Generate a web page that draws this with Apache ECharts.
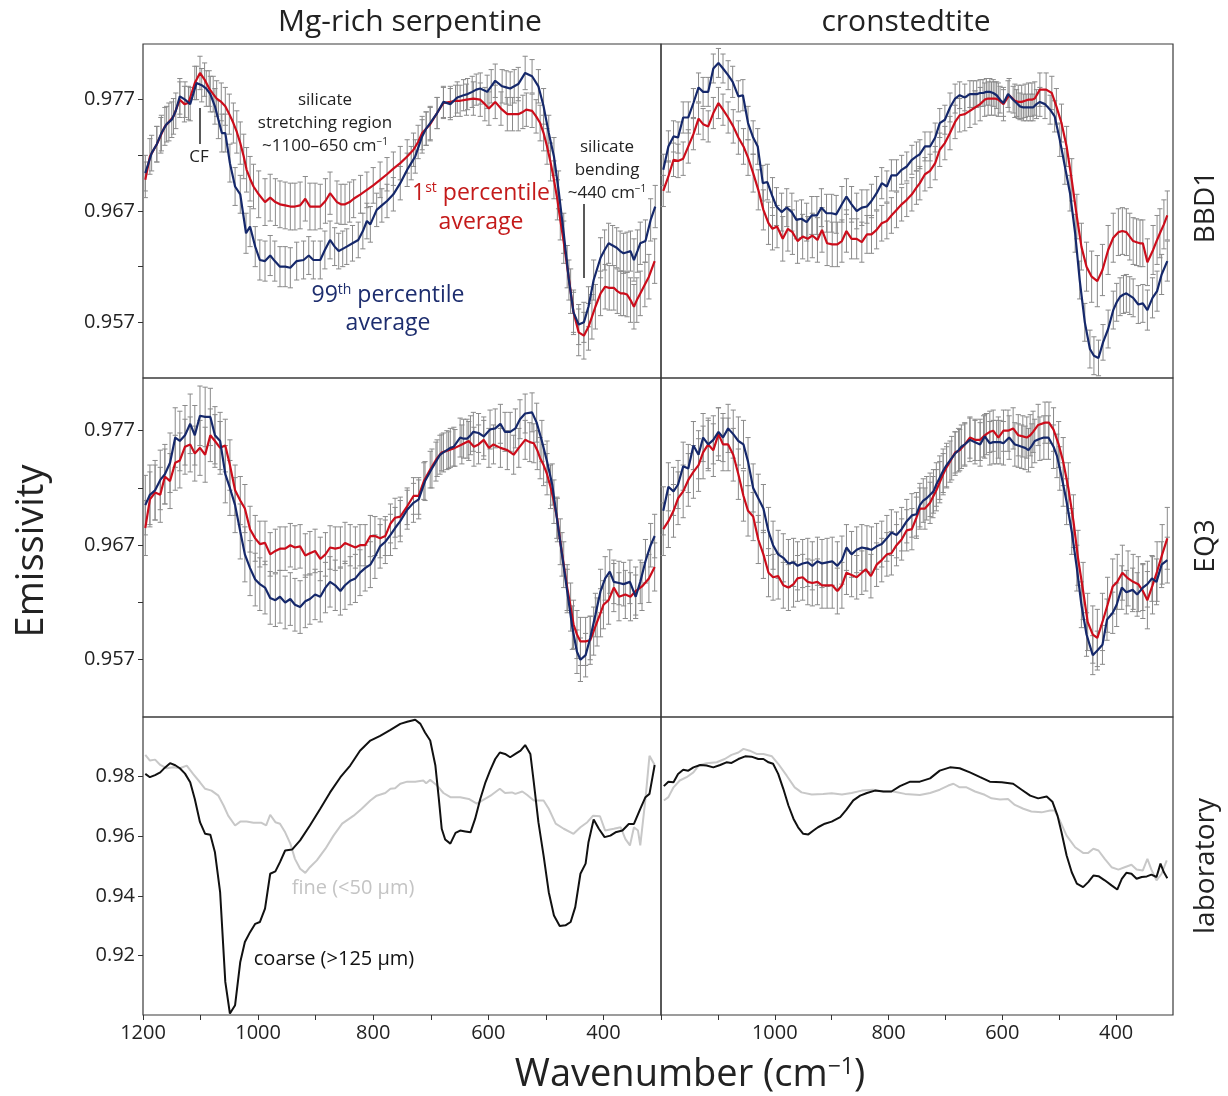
<!DOCTYPE html>
<html><head><meta charset="utf-8">
<script src="https://cdn.jsdelivr.net/npm/echarts@6/dist/echarts.min.js"></script>
<style>html,body{margin:0;padding:0;background:#fff}#c{width:1228px;height:1096px}</style>
</head><body><div id="c"></div>
<script>
// ---------- DATA: [wavenumber (cm-1), emissivity, error half-width] ----------
const bbd1SerpP1 = [[1196,.9698,.0016],[1188,.9719,.0016],[1176,.9730,.0016],[1169,.9738,.0016],[1162,.9746,.0017],[1155,.9750,.0017],[1147,.9755,.0016],[1136,.9770,.0016],[1128,.9766,.0016],[1121,.9767,.0015],[1110,.9785,.0015],[1101,.9794,.0015],[1093,.9788,.0015],[1085,.9780,.0016],[1078,.9775,.0016],[1072,.9771,.0016],[1064,.9768,.0017],[1057,.9764,.0017],[1050,.9757,.0018],[1043,.9749,.0018],[1037,.9741,.0019],[1031,.9731,.0019],[1025,.9719,.0020],[1020,.9707,.0020],[1014,.9699,.0020],[1008,.9692,.0020],[999,.9685,.0021],[988,.9678,.0021],[979,.9682,.0021],[970,.9678,.0021],[962,.9676,.0021],[953,.9675,.0021],[944,.9674,.0021],[936,.9674,.0021],[927,.9675,.0021],[918,.9681,.0020],[910,.9674,.0021],[901,.9674,.0021],[892,.9674,.0020],[883,.9679,.0020],[875,.9686,.0019],[863,.9678,.0019],[856,.9676,.0018],[849,.9676,.0018],[841,.9678,.0018],[834,.9681,.0017],[822,.9685,.0017],[811,.9689,.0016],[800,.9693,.0016],[788,.9698,.0016],[776,.9703,.0015],[765,.9708,.0015],[753,.9713,.0015],[741,.9719,.0015],[730,.9725,.0015],[722,.9732,.0015],[715,.9740,.0015],[708,.9744,.0015],[701,.9748,.0015],[689,.9758,.0014],[678,.9767,.0014],[666,.9768,.0014],[657,.9769,.0014],[649,.9769,.0014],[638,.9770,.0014],[626,.9771,.0015],[614,.9770,.0015],[606,.9766,.0015],[599,.9762,.0015],[588,.9768,.0015],[578,.9762,.0015],[567,.9757,.0015],[558,.9757,.0015],[548,.9757,.0015],[540,.9759,.0015],[534,.9761,.0015],[524,.9760,.0015],[517,.9755,.0015],[510,.9749,.0016],[504,.9740,.0016],[498,.9728,.0016],[492,.9714,.0017],[486,.9698,.0017],[480,.9680,.0018],[475,.9662,.0018],[469,.9642,.0019],[463,.9620,.0019],[457,.9598,.0020],[452,.9579,.0020],[443,.9561,.0021],[434,.9558,.0021],[426,.9566,.0021],[420,.9575,.0020],[414,.9584,.0020],[405,.9596,.0020],[397,.9602,.0020],[390,.9601,.0020],[382,.9601,.0020],[376,.9598,.0020],[370,.9596,.0020],[365,.9596,.0020],[359,.9595,.0020],[353,.9590,.0020],[347,.9584,.0020],[342,.9590,.0020],[336,.9596,.0020],[328,.9604,.0020],[321,.9611,.0020],[311,.9625,.0020]];
const bbd1SerpP99 = [[1196,.9704,.0016],[1185,.9722,.0016],[1176,.9730,.0016],[1168,.9740,.0016],[1159,.9748,.0016],[1150,.9752,.0016],[1143,.9760,.0016],[1136,.9773,.0016],[1127,.9770,.0016],[1118,.9766,.0015],[1107,.9785,.0015],[1098,.9783,.0015],[1090,.9780,.0016],[1083,.9775,.0016],[1075,.9764,.0016],[1069,.9752,.0017],[1063,.9740,.0017],[1057,.9740,.0017],[1049,.9713,.0017],[1040,.9692,.0017],[1031,.9685,.0017],[1021,.9650,.0018],[1014,.9656,.0018],[1005,.9638,.0018],[997,.9626,.0018],[988,.9625,.0018],[979,.9630,.0018],[971,.9625,.0018],[962,.9620,.0018],[953,.9620,.0018],[944,.9619,.0018],[933,.9625,.0017],[921,.9626,.0017],[912,.9630,.0017],[904,.9626,.0017],[892,.9626,.0017],[884,.9635,.0017],[875,.9644,.0017],[867,.9638,.0017],[860,.9634,.0016],[853,.9636,.0016],[846,.9638,.0016],[836,.9641,.0016],[826,.9644,.0016],[818,.9652,.0016],[811,.9661,.0016],[805,.9658,.0016],[794,.9671,.0015],[785,.9675,.0015],[776,.9679,.0015],[765,.9685,.0015],[753,.9695,.0015],[741,.9707,.0015],[734,.9713,.0015],[727,.9719,.0015],[715,.9737,.0015],[708,.9744,.0015],[701,.9749,.0015],[689,.9758,.0014],[678,.9768,.0014],[666,.9766,.0014],[654,.9772,.0014],[643,.9774,.0014],[636,.9775,.0014],[628,.9777,.0014],[621,.9779,.0014],[614,.9780,.0014],[602,.9777,.0015],[595,.9782,.0015],[588,.9787,.0015],[576,.9782,.0015],[569,.9781,.0015],[562,.9780,.0015],[555,.9782,.0015],[548,.9784,.0015],[536,.9794,.0015],[524,.9791,.0015],[513,.9782,.0015],[504,.9764,.0016],[495,.9740,.0016],[486,.9719,.0017],[478,.9689,.0017],[469,.9650,.0018],[460,.9608,.0018],[452,.9579,.0018],[443,.9568,.0018],[434,.9570,.0018],[426,.9584,.0018],[417,.9608,.0018],[405,.9628,.0018],[398,.9635,.0018],[391,.9641,.0018],[384,.9639,.0018],[377,.9637,.0018],[371,.9634,.0018],[365,.9632,.0018],[359,.9633,.0018],[353,.9634,.0018],[347,.9626,.0019],[341,.9634,.0019],[336,.9641,.0019],[327,.9643,.0019],[318,.9662,.0019],[310,.9674,.0019]];
const bbd1CronP1 = [[1196,.9688,.0014],[1187,.9701,.0014],[1178,.9716,.0015],[1170,.9715,.0015],[1161,.9717,.0015],[1152,.9728,.0015],[1143,.9739,.0014],[1134,.9753,.0014],[1126,.9748,.0014],[1117,.9746,.0014],[1108,.9758,.0014],[1099,.9767,.0014],[1091,.9761,.0014],[1082,.9754,.0014],[1073,.9746,.0015],[1064,.9736,.0015],[1055,.9728,.0016],[1047,.9718,.0016],[1038,.9704,.0017],[1029,.9689,.0018],[1020,.9671,.0018],[1011,.9659,.0019],[1004,.9654,.0019],[996,.9656,.0019],[986,.9645,.0020],[977,.9654,.0020],[969,.9651,.0020],[960,.9643,.0020],[951,.9647,.0020],[942,.9645,.0020],[934,.9648,.0020],[925,.9644,.0020],[917,.9653,.0020],[908,.9641,.0020],[899,.9640,.0020],[890,.9640,.0020],[882,.9643,.0019],[874,.9652,.0019],[865,.9645,.0018],[856,.9645,.0018],[847,.9642,.0018],[838,.9649,.0017],[830,.9649,.0017],[821,.9653,.0017],[812,.9659,.0016],[803,.9661,.0016],[795,.9666,.0016],[786,.9671,.0016],[777,.9676,.0015],[768,.9680,.0015],[759,.9685,.0015],[751,.9691,.0015],[745,.9695,.0015],[736,.9703,.0015],[727,.9706,.0015],[718,.9713,.0015],[710,.9725,.0015],[701,.9731,.0015],[692,.9740,.0015],[683,.9750,.0015],[675,.9756,.0015],[666,.9757,.0015],[657,.9760,.0015],[648,.9763,.0015],[639,.9766,.0015],[631,.9770,.0015],[625,.9771,.0015],[619,.9771,.0015],[613,.9771,.0015],[607,.9770,.0015],[598,.9766,.0015],[588,.9774,.0015],[578,.9769,.0015],[572,.9768,.0015],[566,.9768,.0015],[560,.9769,.0015],[554,.9770,.0015],[548,.9770,.0015],[543,.9771,.0015],[534,.9779,.0015],[523,.9779,.0015],[513,.9776,.0015],[505,.9764,.0016],[496,.9749,.0017],[487,.9728,.0018],[478,.9698,.0019],[469,.9665,.0020],[461,.9638,.0021],[452,.9620,.0022],[443,.9611,.0023],[433,.9607,.0023],[424,.9617,.0023],[414,.9635,.0022],[405,.9646,.0022],[396,.9651,.0021],[389,.9652,.0021],[382,.9651,.0021],[376,.9647,.0021],[370,.9643,.0021],[364,.9642,.0021],[358,.9641,.0021],[353,.9641,.0021],[345,.9624,.0021],[335,.9635,.0022],[328,.9644,.0022],[323,.9650,.0022],[316,.9658,.0022],[310,.9666,.0022]];
const bbd1CronP99 = [[1196,.9707,.0014],[1187,.9728,.0014],[1178,.9737,.0014],[1170,.9736,.0014],[1161,.9754,.0014],[1152,.9754,.0014],[1143,.9767,.0013],[1134,.9781,.0013],[1126,.9777,.0013],[1117,.9777,.0013],[1108,.9798,.0013],[1099,.9803,.0013],[1091,.9798,.0013],[1082,.9792,.0013],[1074,.9786,.0014],[1064,.9773,.0014],[1056,.9774,.0014],[1047,.9749,.0015],[1038,.9736,.0015],[1030,.9728,.0016],[1021,.9695,.0016],[1013,.9696,.0016],[1004,.9683,.0017],[997,.9674,.0017],[988,.9669,.0017],[979,.9673,.0017],[970,.9669,.0017],[962,.9662,.0017],[953,.9663,.0017],[944,.9660,.0017],[935,.9666,.0017],[926,.9666,.0017],[918,.9673,.0017],[909,.9668,.0017],[900,.9668,.0017],[892,.9667,.0017],[882,.9676,.0016],[874,.9683,.0016],[865,.9676,.0016],[856,.9670,.0016],[847,.9673,.0016],[838,.9674,.0015],[830,.9679,.0015],[821,.9686,.0015],[812,.9695,.0014],[803,.9692,.0014],[795,.9702,.0014],[786,.9702,.0014],[777,.9707,.0013],[768,.9710,.0013],[759,.9716,.0013],[751,.9719,.0013],[745,.9721,.0013],[736,.9728,.0013],[727,.9728,.0013],[718,.9736,.0013],[710,.9749,.0013],[701,.9752,.0013],[692,.9763,.0013],[683,.9771,.0013],[675,.9774,.0012],[666,.9772,.0012],[657,.9775,.0012],[651,.9775,.0012],[645,.9775,.0012],[639,.9776,.0012],[634,.9776,.0012],[628,.9777,.0012],[622,.9777,.0012],[616,.9776,.0012],[610,.9774,.0012],[604,.9770,.0012],[598,.9767,.0012],[590,.9775,.0012],[581,.9770,.0012],[575,.9767,.0012],[569,.9764,.0012],[563,.9763,.0012],[557,.9763,.0012],[551,.9763,.0012],[546,.9763,.0012],[540,.9766,.0013],[534,.9768,.0013],[525,.9766,.0013],[516,.9761,.0013],[508,.9755,.0014],[499,.9734,.0015],[490,.9710,.0016],[481,.9686,.0016],[472,.9650,.0017],[464,.9608,.0017],[455,.9570,.0017],[446,.9546,.0017],[439,.9540,.0017],[431,.9538,.0016],[423,.9552,.0016],[414,.9564,.0017],[405,.9581,.0017],[399,.9588,.0017],[393,.9593,.0017],[387,.9595,.0017],[382,.9596,.0017],[376,.9594,.0017],[370,.9592,.0017],[361,.9586,.0017],[353,.9587,.0017],[345,.9581,.0018],[336,.9592,.0018],[328,.9598,.0018],[320,.9613,.0018],[310,.9625,.0018]];
const eq3SerpP1 = [[1196,.9685,.0024],[1188,.9710,.0024],[1179,.9716,.0024],[1170,.9714,.0024],[1162,.9730,.0024],[1153,.9726,.0024],[1144,.9742,.0024],[1136,.9744,.0024],[1127,.9756,.0024],[1118,.9758,.0024],[1110,.9750,.0024],[1101,.9755,.0024],[1092,.9749,.0024],[1083,.9766,.0023],[1075,.9761,.0023],[1066,.9755,.0023],[1057,.9757,.0023],[1049,.9740,.0022],[1040,.9718,.0022],[1031,.9709,.0021],[1023,.9702,.0021],[1014,.9684,.0020],[1005,.9676,.0020],[997,.9671,.0020],[988,.9672,.0019],[979,.9662,.0019],[970,.9665,.0019],[962,.9667,.0019],[953,.9667,.0019],[944,.9670,.0019],[936,.9668,.0019],[927,.9669,.0019],[918,.9661,.0019],[910,.9663,.0019],[901,.9665,.0019],[892,.9658,.0019],[883,.9662,.0019],[875,.9668,.0019],[866,.9667,.0019],[857,.9668,.0018],[849,.9672,.0018],[840,.9670,.0018],[831,.9668,.0018],[823,.9670,.0018],[814,.9670,.0018],[805,.9678,.0018],[797,.9678,.0017],[788,.9676,.0017],[779,.9678,.0017],[770,.9689,.0017],[762,.9694,.0017],[753,.9695,.0017],[741,.9704,.0016],[730,.9713,.0016],[721,.9713,.0016],[712,.9726,.0016],[701,.9736,.0016],[689,.9746,.0016],[681,.9751,.0016],[669,.9753,.0016],[658,.9755,.0016],[646,.9758,.0017],[634,.9761,.0017],[625,.9756,.0017],[617,.9758,.0017],[608,.9762,.0017],[599,.9755,.0017],[591,.9758,.0017],[579,.9755,.0017],[567,.9753,.0017],[556,.9749,.0017],[547,.9755,.0017],[536,.9762,.0017],[528,.9760,.0017],[521,.9759,.0017],[515,.9753,.0017],[510,.9746,.0018],[504,.9740,.0018],[498,.9732,.0018],[492,.9721,.0019],[486,.9708,.0019],[480,.9692,.0019],[475,.9673,.0020],[469,.9653,.0020],[463,.9633,.0020],[457,.9616,.0021],[452,.9601,.0021],[446,.9592,.0021],[440,.9586,.0021],[431,.9586,.0021],[423,.9587,.0021],[417,.9595,.0021],[411,.9603,.0021],[405,.9611,.0021],[400,.9618,.0021],[391,.9622,.0021],[382,.9633,.0021],[373,.9625,.0021],[362,.9627,.0021],[353,.9625,.0021],[344,.9630,.0021],[333,.9634,.0021],[321,.9641,.0021],[311,.9651,.0021]];
const eq3SerpP99 = [[1196,.9705,.0026],[1188,.9714,.0026],[1179,.9718,.0026],[1170,.9727,.0026],[1162,.9732,.0026],[1153,.9742,.0026],[1144,.9764,.0026],[1136,.9761,.0026],[1127,.9766,.0026],[1118,.9776,.0026],[1110,.9766,.0026],[1101,.9783,.0026],[1092,.9782,.0026],[1083,.9782,.0025],[1075,.9766,.0025],[1066,.9761,.0025],[1057,.9732,.0025],[1049,.9720,.0024],[1040,.9705,.0024],[1031,.9682,.0024],[1023,.9662,.0024],[1014,.9650,.0024],[1005,.9640,.0023],[997,.9636,.0023],[988,.9633,.0023],[979,.9624,.0023],[970,.9622,.0023],[962,.9625,.0023],[953,.9620,.0023],[944,.9623,.0023],[936,.9618,.0023],[927,.9616,.0023],[918,.9621,.0023],[910,.9623,.0022],[901,.9627,.0022],[892,.9625,.0022],[883,.9633,.0022],[875,.9638,.0022],[866,.9635,.0022],[857,.9630,.0021],[849,.9635,.0021],[840,.9639,.0021],[831,.9641,.0021],[823,.9646,.0020],[814,.9650,.0020],[805,.9653,.0020],[797,.9660,.0019],[788,.9669,.0019],[779,.9673,.0019],[770,.9679,.0018],[762,.9685,.0018],[753,.9691,.0018],[741,.9701,.0017],[730,.9707,.0017],[721,.9710,.0017],[710,.9726,.0017],[698,.9737,.0017],[691,.9743,.0017],[684,.9749,.0017],[678,.9751,.0017],[672,.9753,.0017],[666,.9755,.0017],[660,.9756,.0017],[649,.9764,.0017],[643,.9763,.0017],[637,.9763,.0017],[631,.9766,.0017],[626,.9769,.0017],[617,.9768,.0017],[608,.9765,.0017],[597,.9771,.0017],[588,.9772,.0017],[579,.9776,.0017],[571,.9769,.0017],[562,.9769,.0017],[553,.9772,.0017],[545,.9780,.0017],[536,.9785,.0017],[524,.9786,.0017],[516,.9777,.0017],[507,.9761,.0018],[498,.9743,.0018],[489,.9723,.0018],[481,.9694,.0018],[472,.9662,.0019],[463,.9630,.0019],[454,.9598,.0019],[446,.9577,.0019],[440,.9570,.0019],[431,.9574,.0019],[423,.9589,.0019],[414,.9609,.0019],[405,.9630,.0019],[397,.9641,.0019],[389,.9647,.0019],[382,.9638,.0019],[373,.9637,.0019],[365,.9636,.0019],[354,.9638,.0019],[344,.9625,.0019],[336,.9638,.0019],[327,.9656,.0019],[318,.9670,.0019],[311,.9678,.0019]];
const eq3CronP1 = [[1196,.9684,.0023],[1187,.9691,.0023],[1178,.9700,.0023],[1170,.9711,.0023],[1161,.9717,.0023],[1152,.9727,.0023],[1143,.9734,.0023],[1134,.9740,.0023],[1126,.9751,.0023],[1117,.9758,.0023],[1108,.9753,.0023],[1099,.9767,.0023],[1091,.9758,.0023],[1082,.9758,.0023],[1073,.9749,.0023],[1064,.9732,.0022],[1055,.9713,.0022],[1047,.9700,.0022],[1038,.9695,.0021],[1029,.9675,.0021],[1020,.9662,.0021],[1011,.9646,.0021],[1003,.9642,.0020],[994,.9643,.0020],[985,.9635,.0020],[976,.9633,.0020],[967,.9636,.0020],[960,.9641,.0020],[951,.9642,.0020],[942,.9638,.0020],[934,.9637,.0020],[925,.9638,.0020],[917,.9635,.0020],[908,.9635,.0020],[899,.9635,.0020],[890,.9630,.0020],[882,.9635,.0020],[874,.9646,.0019],[865,.9644,.0019],[856,.9642,.0019],[847,.9646,.0019],[840,.9649,.0019],[831,.9643,.0019],[821,.9653,.0019],[812,.9657,.0019],[803,.9662,.0019],[795,.9663,.0019],[786,.9670,.0018],[777,.9675,.0018],[768,.9683,.0018],[759,.9684,.0018],[751,.9694,.0018],[745,.9702,.0018],[736,.9702,.0018],[727,.9707,.0018],[722,.9712,.0018],[716,.9718,.0018],[710,.9725,.0018],[704,.9732,.0018],[698,.9738,.0018],[692,.9743,.0018],[683,.9751,.0018],[675,.9753,.0018],[666,.9758,.0018],[657,.9764,.0018],[648,.9762,.0018],[639,.9762,.0018],[633,.9765,.0018],[628,.9767,.0018],[622,.9769,.0018],[616,.9770,.0018],[607,.9764,.0018],[598,.9770,.0018],[590,.9770,.0018],[581,.9772,.0018],[572,.9766,.0018],[564,.9765,.0018],[557,.9764,.0018],[551,.9766,.0018],[546,.9769,.0018],[537,.9775,.0018],[525,.9777,.0018],[518,.9777,.0018],[510,.9771,.0019],[501,.9758,.0020],[493,.9743,.0021],[484,.9720,.0022],[475,.9691,.0023],[467,.9659,.0024],[458,.9630,.0025],[450,.9603,.0025],[441,.9592,.0025],[433,.9589,.0025],[424,.9603,.0025],[415,.9618,.0024],[406,.9634,.0024],[398,.9638,.0024],[389,.9646,.0024],[379,.9641,.0024],[370,.9638,.0024],[361,.9636,.0024],[353,.9630,.0024],[345,.9622,.0025],[336,.9635,.0025],[328,.9647,.0026],[319,.9662,.0026],[310,.9676,.0027]];
const eq3CronP99 = [[1196,.9700,.0021],[1187,.9721,.0021],[1178,.9717,.0021],[1170,.9723,.0021],[1161,.9739,.0021],[1152,.9737,.0021],[1143,.9757,.0021],[1134,.9749,.0021],[1126,.9764,.0021],[1117,.9758,.0021],[1108,.9762,.0021],[1099,.9769,.0021],[1091,.9764,.0021],[1082,.9772,.0021],[1073,.9767,.0021],[1064,.9761,.0021],[1055,.9758,.0021],[1047,.9743,.0021],[1038,.9720,.0021],[1029,.9711,.0021],[1020,.9702,.0021],[1011,.9682,.0021],[1003,.9670,.0021],[994,.9662,.0021],[985,.9659,.0021],[976,.9654,.0021],[967,.9655,.0021],[960,.9652,.0021],[951,.9654,.0021],[942,.9655,.0021],[934,.9652,.0021],[925,.9656,.0021],[917,.9654,.0021],[908,.9655,.0021],[899,.9656,.0021],[890,.9652,.0021],[882,.9657,.0021],[874,.9668,.0020],[865,.9662,.0020],[856,.9666,.0020],[847,.9668,.0020],[838,.9667,.0020],[830,.9666,.0020],[821,.9669,.0020],[812,.9671,.0020],[803,.9676,.0020],[795,.9681,.0020],[786,.9679,.0020],[777,.9684,.0019],[768,.9691,.0019],[759,.9696,.0019],[751,.9697,.0019],[745,.9705,.0019],[739,.9709,.0019],[733,.9711,.0019],[727,.9714,.0019],[721,.9717,.0019],[716,.9723,.0019],[710,.9729,.0019],[704,.9735,.0019],[698,.9740,.0019],[689,.9746,.0019],[683,.9750,.0019],[677,.9753,.0019],[672,.9756,.0019],[666,.9758,.0019],[657,.9762,.0019],[648,.9760,.0019],[639,.9758,.0019],[631,.9765,.0019],[622,.9759,.0019],[616,.9760,.0019],[610,.9760,.0019],[604,.9760,.0019],[598,.9759,.0019],[588,.9764,.0019],[578,.9758,.0019],[572,.9757,.0019],[566,.9756,.0019],[560,.9755,.0019],[554,.9753,.0019],[548,.9757,.0019],[543,.9761,.0019],[534,.9763,.0019],[527,.9764,.0019],[519,.9764,.0019],[510,.9756,.0019],[504,.9748,.0019],[499,.9737,.0019],[493,.9723,.0019],[487,.9708,.0020],[478,.9682,.0020],[469,.9650,.0020],[461,.9618,.0020],[452,.9592,.0019],[441,.9574,.0017],[433,.9578,.0017],[424,.9583,.0017],[416,.9605,.0018],[406,.9611,.0018],[399,.9618,.0019],[390,.9633,.0019],[382,.9629,.0019],[371,.9631,.0019],[363,.9627,.0019],[353,.9633,.0020],[345,.9636,.0020],[337,.9641,.0020],[329,.9638,.0020],[320,.9653,.0020],[310,.9657,.0020]];
// laboratory spectra: [wavenumber, emissivity]
const labSerpCoarse = [[1196,.9809],[1188,.9798],[1179,.9805],[1170,.9814],[1162,.9830],[1153,.9845],[1144,.9838],[1136,.9828],[1127,.9810],[1118,.9781],[1110,.9725],[1101,.9647],[1092,.9608],[1083,.9605],[1075,.9546],[1066,.9412],[1057,.9111],[1049,.9005],[1040,.9033],[1031,.9178],[1023,.9245],[1014,.9278],[1005,.9306],[997,.9312],[988,.9357],[979,.9474],[970,.9482],[962,.9513],[953,.9552],[941,.9555],[927,.9586],[910,.9636],[892,.9692],[875,.9747],[857,.9798],[840,.9837],[823,.9887],[805,.9921],[788,.9937],[770,.9957],[753,.9977],[741,.9984],[727,.9991],[718,.9977],[710,.9948],[701,.9921],[692,.9837],[686,.9725],[681,.9625],[675,.9589],[666,.9575],[657,.9611],[649,.9619],[640,.9616],[631,.9613],[623,.9658],[614,.9725],[605,.9781],[597,.9820],[588,.9859],[580,.9881],[571,.9876],[562,.9865],[553,.9876],[544,.9887],[536,.9906],[527,.9876],[521,.9781],[513,.9647],[504,.9535],[495,.9412],[486,.9334],[476,.9299],[466,.9301],[457,.9312],[449,.9362],[440,.9474],[431,.9508],[426,.9580],[417,.9656],[408,.9625],[398,.9597],[388,.9602],[379,.9613],[367,.9619],[356,.9641],[347,.9641],[336,.9692],[327,.9731],[320,.9742],[311,.9839]];
const labSerpFine = [[1196,.9873],[1188,.9854],[1179,.9857],[1170,.9839],[1159,.9828],[1147,.9831],[1136,.9828],[1124,.9837],[1113,.9809],[1101,.9781],[1092,.9759],[1081,.9753],[1069,.9736],[1060,.9703],[1052,.9669],[1040,.9636],[1031,.9649],[1020,.9649],[1008,.9645],[994,.9645],[986,.9636],[979,.9672],[970,.9647],[962,.9642],[953,.9613],[944,.9575],[936,.9524],[927,.9491],[918,.9477],[910,.9496],[898,.9519],[883,.9558],[869,.9602],[854,.9642],[834,.9669],[820,.9692],[805,.9720],[794,.9736],[779,.9745],[770,.9759],[762,.9761],[753,.9776],[741,.9783],[727,.9783],[713,.9787],[708,.9778],[701,.9789],[689,.9770],[678,.9745],[666,.9731],[649,.9731],[634,.9725],[620,.9709],[608,.9723],[594,.9739],[580,.9759],[571,.9745],[559,.9747],[553,.9742],[541,.9750],[533,.9739],[521,.9720],[504,.9720],[495,.9692],[483,.9642],[469,.9625],[452,.9608],[440,.9630],[428,.9647],[418,.9669],[406,.9667],[397,.9619],[382,.9625],[370,.9630],[362,.9591],[354,.9569],[347,.9630],[340,.9619],[336,.9569],[327,.9725],[320,.9870],[311,.9839]];
const labCronCoarse = [[1195,.9768],[1187,.9783],[1178,.9781],[1170,.9809],[1161,.9823],[1152,.9820],[1143,.9831],[1131,.9839],[1120,.9837],[1108,.9831],[1096,.9839],[1085,.9848],[1076,.9846],[1064,.9859],[1052,.9868],[1041,.9867],[1029,.9859],[1020,.9859],[1011,.9848],[1003,.9843],[994,.9809],[985,.9759],[976,.9703],[967,.9658],[959,.9630],[950,.9608],[941,.9606],[932,.9619],[924,.9630],[912,.9642],[900,.9649],[885,.9664],[874,.9689],[862,.9720],[850,.9736],[838,.9745],[824,.9753],[809,.9750],[795,.9750],[780,.9768],[762,.9783],[745,.9783],[727,.9794],[710,.9820],[692,.9831],[675,.9828],[657,.9814],[639,.9798],[622,.9783],[601,.9781],[581,.9776],[566,.9756],[551,.9736],[537,.9727],[522,.9733],[512,.9716],[503,.9669],[496,.9613],[487,.9535],[478,.9479],[469,.9441],[458,.9429],[449,.9446],[440,.9468],[431,.9466],[420,.9452],[408,.9435],[398,.9421],[390,.9457],[382,.9477],[373,.9474],[364,.9457],[355,.9463],[346,.9465],[338,.9471],[329,.9463],[322,.9508],[316,.9479],[310,.9459]];
const labCronFine = [[1195,.9720],[1187,.9731],[1178,.9764],[1167,.9787],[1155,.9798],[1143,.9814],[1134,.9837],[1120,.9845],[1102,.9848],[1088,.9859],[1076,.9873],[1064,.9881],[1055,.9893],[1044,.9887],[1032,.9876],[1020,.9876],[1005,.9868],[994,.9843],[979,.9803],[965,.9764],[953,.9747],[935,.9740],[915,.9742],[900,.9744],[882,.9740],[865,.9745],[847,.9753],[827,.9756],[809,.9750],[792,.9750],[771,.9742],[745,.9738],[727,.9745],[710,.9756],[695,.9770],[686,.9776],[675,.9764],[663,.9764],[648,.9750],[631,.9739],[619,.9727],[604,.9723],[590,.9725],[578,.9705],[563,.9692],[549,.9683],[531,.9680],[516,.9686],[508,.9686],[499,.9653],[487,.9602],[472,.9563],[458,.9544],[449,.9544],[440,.9558],[431,.9552],[420,.9524],[408,.9496],[396,.9488],[385,.9496],[373,.9504],[364,.9488],[353,.9485],[345,.9524],[338,.9488],[329,.9452],[320,.9474],[311,.9519]];

// ---------- tick values ----------
const xTickValues = [1200,1100,1000,900,800,700,600,500,400];
const xLabelsLeft = [1200,1000,800,600,400];
const xLabelsRight = [1000,800,600,400];
const yTicksObs = [0.957,0.962,0.967,0.972,0.977];
const yLabelsObs = [0.957,0.967,0.977];
const yTicksLab = [0.92,0.94,0.96,0.98];
const yLabelsLab = [0.92,0.94,0.96,0.98];

// ---------- styling ----------
const FONT = '"Open Sans", "Noto Sans", sans-serif';
const RED = '#cc0d1b', NAVY = '#15286b', ERR = '#8a8a8a', TXT = '#222';
const grids = [
  {left:143, top:44, width:518, height:334},
  {left:661, top:44, width:512, height:334},
  {left:143, top:378, width:518, height:339},
  {left:661, top:378, width:512, height:339},
  {left:143, top:717, width:518, height:298},
  {left:661, top:717, width:512, height:298}
].map(g => Object.assign(g, {show:true, borderColor:'#3a3a3a', borderWidth:1.2, backgroundColor:'transparent'}));
const yRanges = [[0.952,0.982],[0.952,0.982],[0.952,0.9816],[0.952,0.9816],[0.90,1.00],[0.90,1.00]];

const xAxes = grids.map((g,i) => {
  const bottom = i >= 4;
  return {type:'value', gridIndex:i, inverse:true, min:300, max:1200,
    axisLine:{show:false}, splitLine:{show:false},
    axisTick:{show:bottom, customValues:xTickValues, length:5, lineStyle:{color:'#333', width:1}},
    axisLabel:{show:bottom, customValues:(i===4?xLabelsLeft:xLabelsRight), fontSize:20, color:TXT, fontFamily:FONT, margin:8,
      formatter: v => String(Math.round(v))}};
});
const yAxes = grids.map((g,i) => {
  const leftCol = i % 2 === 0, lab = i >= 4;
  return {type:'value', gridIndex:i, min:yRanges[i][0], max:yRanges[i][1],
    axisLine:{show:false}, splitLine:{show:false},
    axisTick:{show:leftCol, customValues:(lab?yTicksLab:yTicksObs), length:5, lineStyle:{color:'#333', width:1}},
    axisLabel:{show:leftCol, customValues:(lab?yLabelsLab:yLabelsObs), fontSize:20, color:TXT, fontFamily:FONT, margin:8,
      formatter: v => lab ? v.toFixed(2) : v.toFixed(3)}};
});

function errRender(params, api) {
  const x = api.value(0), lo = api.value(1), hi = api.value(2);
  const a = api.coord([x, hi]), b = api.coord([x, lo]);
  const w = 2.6, st = {stroke:ERR, lineWidth:1};
  return {type:'group', children:[
    {type:'line', shape:{x1:a[0],y1:a[1],x2:b[0],y2:b[1]}, style:st},
    {type:'line', shape:{x1:a[0]-w,y1:a[1],x2:a[0]+w,y2:a[1]}, style:st},
    {type:'line', shape:{x1:b[0]-w,y1:b[1],x2:b[0]+w,y2:b[1]}, style:st}]};
}
const series = [];
const obs = [[bbd1SerpP1,bbd1SerpP99],[bbd1CronP1,bbd1CronP99],[eq3SerpP1,eq3SerpP99],[eq3CronP1,eq3CronP99]];
obs.forEach((pair, i) => {
  pair.forEach(arr => series.push({type:'custom', xAxisIndex:i, yAxisIndex:i, renderItem:errRender, z:1, silent:true,
    encode:{x:0, y:[1,2]}, data:arr.map(d => [d[0], d[1]-d[2], d[1]+d[2]])}));
  series.push({type:'line', xAxisIndex:i, yAxisIndex:i, showSymbol:false, z:3, silent:true,
    lineStyle:{color:RED, width:2.2}, data:pair[0].map(d => [d[0], d[1]])});
  series.push({type:'line', xAxisIndex:i, yAxisIndex:i, showSymbol:false, z:4, silent:true,
    lineStyle:{color:NAVY, width:2.2}, data:pair[1].map(d => [d[0], d[1]])});
});
[[labSerpFine, labSerpCoarse],[labCronFine, labCronCoarse]].forEach((pair, k) => {
  const i = 4 + k;
  series.push({type:'line', xAxisIndex:i, yAxisIndex:i, showSymbol:false, z:3, silent:true,
    lineStyle:{color:'#c8c8c8', width:2}, data:pair[0]});
  series.push({type:'line', xAxisIndex:i, yAxisIndex:i, showSymbol:false, z:4, silent:true,
    lineStyle:{color:'#111', width:2}, data:pair[1]});
});

function txt(x, y, text, size, color, extra) {
  return Object.assign({type:'text', x:x, y:y, z:100, style:{text:text, fontSize:size, fontFamily:FONT, fill:color, align:'center', verticalAlign:'middle'}}, extra || {});
}
function rtxt(x, y, text, size, color, extra) {
  const o = txt(x, y, text, size, color, extra);
  o.style.rich = {n:{fontSize:size, fontFamily:FONT, fill:color},
                  s:{fontSize:Math.round(size*0.6), fontFamily:FONT, fill:color, verticalAlign:'top'}};
  return o;
}
const graphic = [
  txt(410, 22, 'Mg-rich serpentine', 30, TXT),
  txt(906, 22, 'cronstedtite', 30, TXT),
  txt(1206, 207, 'BBD1', 28, TXT, {rotation:Math.PI/2}),
  txt(1206, 546, 'EQ3', 28, TXT, {rotation:Math.PI/2}),
  txt(1206, 866, 'laboratory', 28, TXT, {rotation:Math.PI/2}),
  txt(32, 551, 'Emissivity', 38, TXT, {rotation:Math.PI/2}),
  rtxt(690, 1075, '{n|Wavenumber (cm}{s|−1}{n|)}', 38, TXT),
  txt(325, 100, 'silicate', 17, TXT),
  txt(325, 123, 'stretching region', 17, TXT),
  rtxt(325, 146, '{n|~1100–650 cm}{s|−1}', 17, TXT),
  txt(199, 157, 'CF', 17, TXT),
  {type:'line', z:100, shape:{x1:200, y1:108, x2:200, y2:144}, style:{stroke:TXT, lineWidth:1.5}},
  txt(607, 147, 'silicate', 17, TXT),
  txt(607, 170, 'bending', 17, TXT),
  rtxt(607, 193, '{n|~440 cm}{s|−1}', 17, TXT),
  {type:'line', z:100, shape:{x1:584, y1:204, x2:584, y2:278}, style:{stroke:TXT, lineWidth:1.5}},
  rtxt(481, 193, '{n|1}{s|st}{n| percentile}', 23, '#c41a1a'),
  txt(481, 222, 'average', 23, '#c41a1a'),
  rtxt(388, 295, '{n|99}{s|th}{n| percentile}', 23, '#1d2d6e'),
  txt(388, 323, 'average', 23, '#1d2d6e'),
  txt(353, 888, 'fine (<50 µm)', 20, '#c4c4c4'),
  txt(334, 959, 'coarse (>125 µm)', 20, '#111')
];

const chart = echarts.init(document.getElementById('c'), null, {renderer:'canvas'});
chart.setOption({animation:false, backgroundColor:'#fff', grid:grids, xAxis:xAxes, yAxis:yAxes, series:series, graphic:graphic});
</script></body></html>
